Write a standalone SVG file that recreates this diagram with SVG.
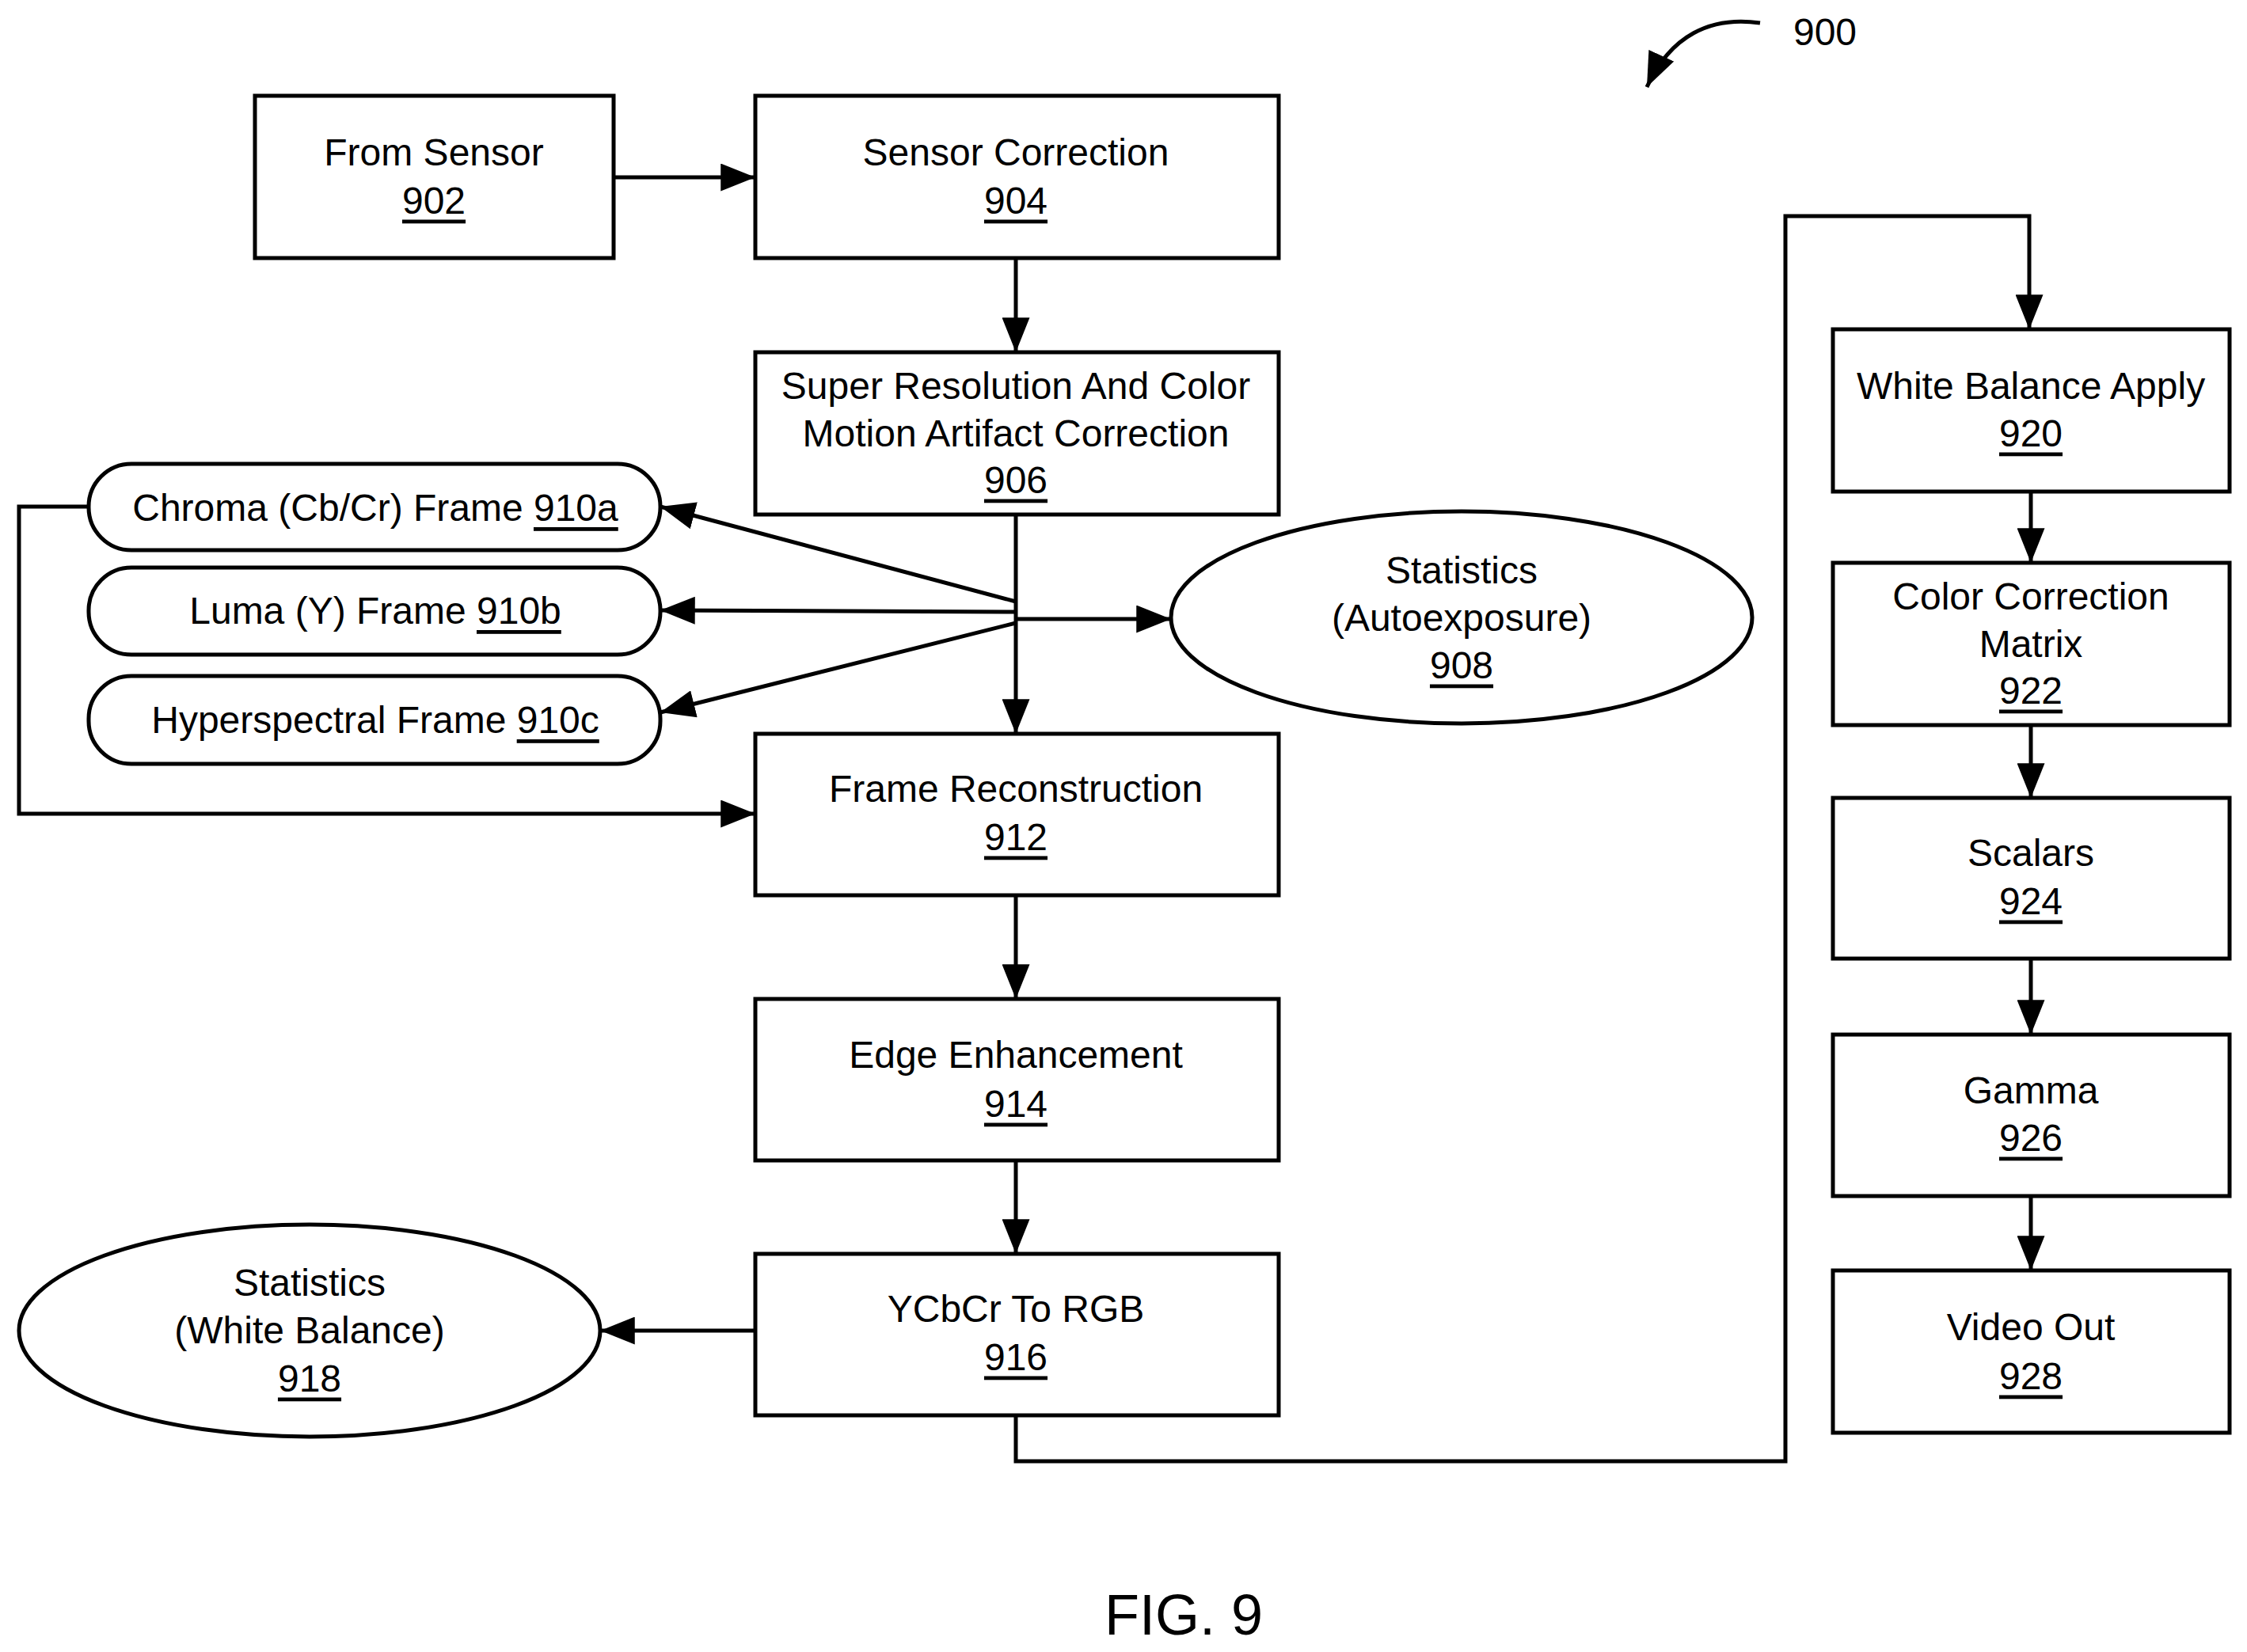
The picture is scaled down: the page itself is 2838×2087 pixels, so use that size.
<svg xmlns="http://www.w3.org/2000/svg" width="2838" height="2087" viewBox="0 0 2838 2087">
<style>
.b{fill:#fff;stroke:#000;stroke-width:5}
.c{fill:none;stroke:#000;stroke-width:5}
.a{marker-end:url(#ar)}
text{font-family:"Liberation Sans",Arial,sans-serif;font-size:48px;text-anchor:middle;dominant-baseline:central;fill:#000}
.u{text-decoration:underline}
</style>
<defs><marker id="ar" markerWidth="10" markerHeight="8" refX="10" refY="4" orient="auto" markerUnits="userSpaceOnUse" viewBox="0 0 10 8"><path d="M0,0L10,4L0,8z"/></marker>
<marker id="ar2" viewBox="0 0 10 8" refX="10" refY="4" markerWidth="44" markerHeight="35" orient="auto" markerUnits="userSpaceOnUse"><path d="M0,0L10,4L0,8z"/></marker></defs>
<rect width="2838" height="2087" fill="#fff"/>
<g id="connectors" class="c">
<path d="M775,224H954" marker-end="url(#ar2)"/>
<path d="M1283,326V445" marker-end="url(#ar2)"/>
<path d="M1283,650V927" marker-end="url(#ar2)"/>
<path d="M1283,760L834,640" marker-end="url(#ar2)"/>
<path d="M1283,773L834,771" marker-end="url(#ar2)"/>
<path d="M1283,787L834,900" marker-end="url(#ar2)"/>
<path d="M1283,782H1479" marker-end="url(#ar2)"/>
<path d="M112,640H24V1028H954" marker-end="url(#ar2)"/>
<path d="M1283,1131V1262" marker-end="url(#ar2)"/>
<path d="M1283,1466V1584" marker-end="url(#ar2)"/>
<path d="M954,1681H758" marker-end="url(#ar2)"/>
<path d="M1283,1788V1846H2255V273H2563V416" marker-end="url(#ar2)"/>
<path d="M2565,621V711" marker-end="url(#ar2)"/>
<path d="M2565,916V1008" marker-end="url(#ar2)"/>
<path d="M2565,1211V1307" marker-end="url(#ar2)"/>
<path d="M2565,1511V1605" marker-end="url(#ar2)"/>
<path d="M2223,29C2160,20 2110,45 2080,110" marker-end="url(#ar2)"/>
</g>
<g id="n900"><text x="2305" y="40">900</text></g>
<g id="n902"><rect class="b" x="322" y="121" width="453" height="205"/><text x="548" y="192">From Sensor</text><text class="u" x="548" y="253">902</text></g>
<g id="n904"><rect class="b" x="954" y="121" width="661" height="205"/><text x="1283" y="192">Sensor Correction</text><text class="u" x="1283" y="253">904</text></g>
<g id="n906"><rect class="b" x="954" y="445" width="661" height="205"/><text x="1283" y="487">Super Resolution And Color</text><text x="1283" y="547">Motion Artifact Correction</text><text class="u" x="1283" y="606">906</text></g>
<g id="n910a"><rect class="b" x="112" y="586" width="722" height="109" rx="54"/><text x="474" y="641">Chroma (Cb/Cr) Frame <tspan class="u">910a</tspan></text></g>
<g id="n910b"><rect class="b" x="112" y="717" width="722" height="110" rx="54"/><text x="474" y="771">Luma (Y) Frame <tspan class="u">910b</tspan></text></g>
<g id="n910c"><rect class="b" x="112" y="854" width="722" height="111" rx="54"/><text x="474" y="909">Hyperspectral Frame <tspan class="u">910c</tspan></text></g>
<g id="n908"><ellipse class="b" cx="1846" cy="780" rx="367" ry="134"/><text x="1846" y="720">Statistics</text><text x="1846" y="780">(Autoexposure)</text><text class="u" x="1846" y="840">908</text></g>
<g id="n912"><rect class="b" x="954" y="927" width="661" height="204"/><text x="1283" y="996">Frame Reconstruction</text><text class="u" x="1283" y="1057">912</text></g>
<g id="n914"><rect class="b" x="954" y="1262" width="661" height="204"/><text x="1283" y="1332">Edge Enhancement</text><text class="u" x="1283" y="1394">914</text></g>
<g id="n916"><rect class="b" x="954" y="1584" width="661" height="204"/><text x="1283" y="1653">YCbCr To RGB</text><text class="u" x="1283" y="1714">916</text></g>
<g id="n918"><ellipse class="b" cx="391" cy="1681" rx="367" ry="134"/><text x="391" y="1620">Statistics</text><text x="391" y="1680">(White Balance)</text><text class="u" x="391" y="1741">918</text></g>
<g id="n920"><rect class="b" x="2315" y="416" width="501" height="205"/><text x="2565" y="487">White Balance Apply</text><text class="u" x="2565" y="547">920</text></g>
<g id="n922"><rect class="b" x="2315" y="711" width="501" height="205"/><text x="2565" y="753">Color Correction</text><text x="2565" y="813">Matrix</text><text class="u" x="2565" y="872">922</text></g>
<g id="n924"><rect class="b" x="2315" y="1008" width="501" height="203"/><text x="2565" y="1077">Scalars</text><text class="u" x="2565" y="1138">924</text></g>
<g id="n926"><rect class="b" x="2315" y="1307" width="501" height="204"/><text x="2565" y="1377">Gamma</text><text class="u" x="2565" y="1437">926</text></g>
<g id="n928"><rect class="b" x="2315" y="1605" width="501" height="205"/><text x="2565" y="1676">Video Out</text><text class="u" x="2565" y="1738">928</text></g>
<g id="fig"><text x="1495" y="2040" style="font-size:72px">FIG. 9</text></g>
</svg>
